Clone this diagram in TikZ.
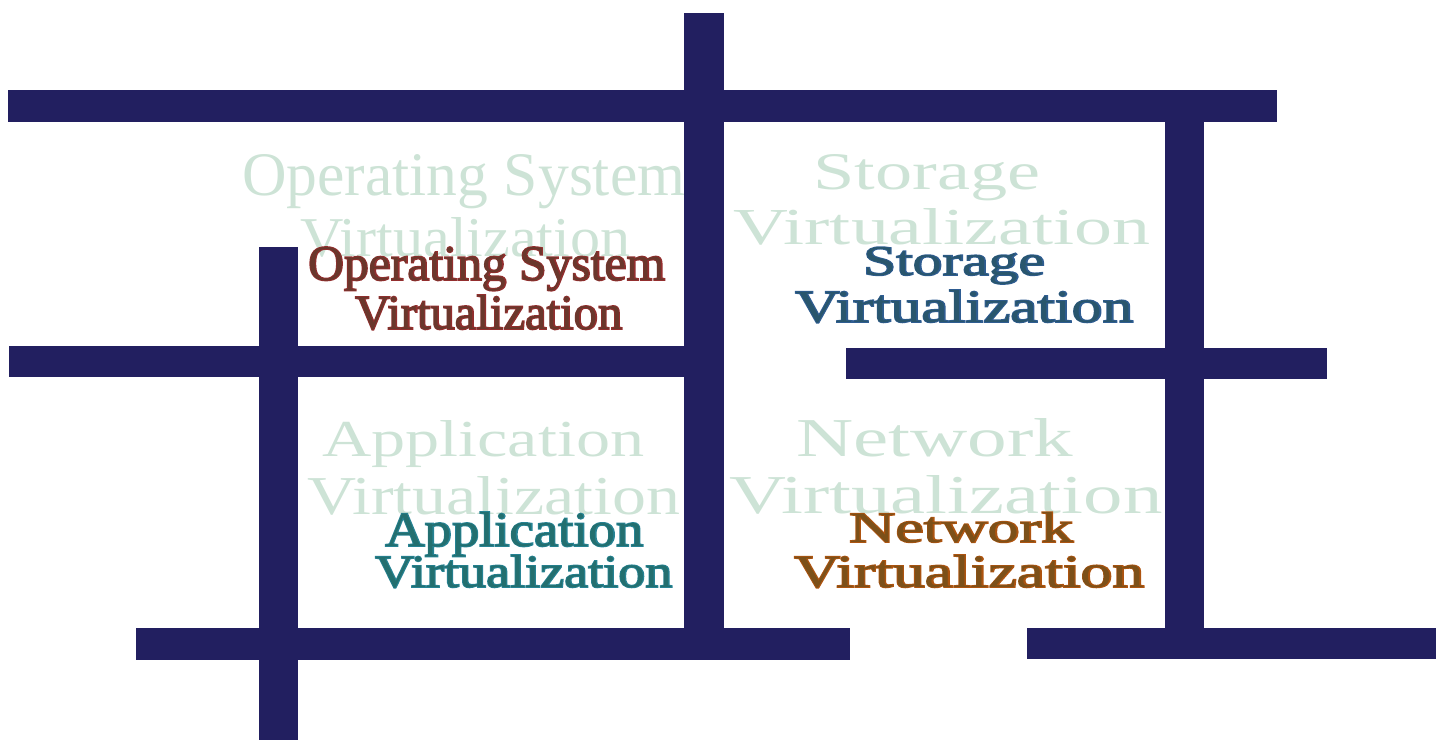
\documentclass[tikz,border=0pt]{standalone}
\usepackage{fontspec}
\setmainfont{Liberation Serif}
\newfontfamily\heavyserif[FakeBold=3.5]{Liberation Serif}
\usepackage{graphicx}

\definecolor{barblue}{HTML}{221F60}
\definecolor{ghostgreen}{HTML}{CDE3D6}
\definecolor{coregreen}{HTML}{1F4A2A}
\definecolor{osred}{HTML}{932E2E}
\definecolor{storeblue}{HTML}{2F5D92}
\definecolor{appteal}{HTML}{268394}
\definecolor{netbrown}{HTML}{AE5410}

\tikzset{
    bar/.style={fill=barblue},
    caption/.style={inner sep=0pt, anchor=base west},
    ghost/.style={caption, text=ghostgreen},
    rim/.style={caption, font=\heavyserif},
    core/.style={caption, text=coregreen, text opacity=0.35}
}

\begin{document}
\begin{tikzpicture}[x=1pt,y=-1pt]
        \useasboundingbox (0,0) rectangle (1436,740);
        % Ghost captions
        \foreach \name/\x/\y/\w/\h/\txt in {osGhostA/242/195/443/41/Operating System,
                osGhostB/300/256/330/39/Virtualization,
                stGhostA/813/189/227/35/Storage,
                stGhostB/733/244/417/36/Virtualization,
                apGhostA/322/456/322/36/Application,
                apGhostB/307/514/373/38/Virtualization,
                nwGhostA/796/456/277/38/Network,
                nwGhostB/729/513/433/38/Virtualization}
            \node[ghost] (\name) at (\x,\y) {\resizebox{\w pt}{\h pt}{\txt}};
        % Bars
        \foreach \xa/\ya/\xb/\yb in {8/90/1277/122, 684/13/724/628, 1165/122/1204/628,
                259/247/298/740, 9/346/684/377, 846/348/1327/379,
                136/628/850/660, 1027/628/1436/659}
            \fill[bar] (\xa,\ya) rectangle (\xb,\yb);
        % Captions
        \foreach \name/\x/\y/\w/\h/\col/\txt in {osTitleA/308/280/357/33/osred/Operating System,
                osTitleB/355/329/267/34/osred/Virtualization,
                stTitleA/863/275/182/28/storeblue/Storage,
                stTitleB/795/322/338/32/storeblue/Virtualization,
                apTitleA/385/546/258/34/appteal/Application,
                apTitleB/375/587/297/32/appteal/Virtualization,
                nwTitleA/849/542/224/30/netbrown/Network,
                nwTitleB/794/587/350/32/netbrown/Virtualization}
        {
            \node[rim, text=\col] (\name-rim) at (\x,\y) {\resizebox{\w pt}{\h pt}{\txt}};
            \node[core] (\name) at (\x,\y) {\resizebox{\w pt}{\h pt}{\txt}};
        }
\end{tikzpicture}
\end{document}
